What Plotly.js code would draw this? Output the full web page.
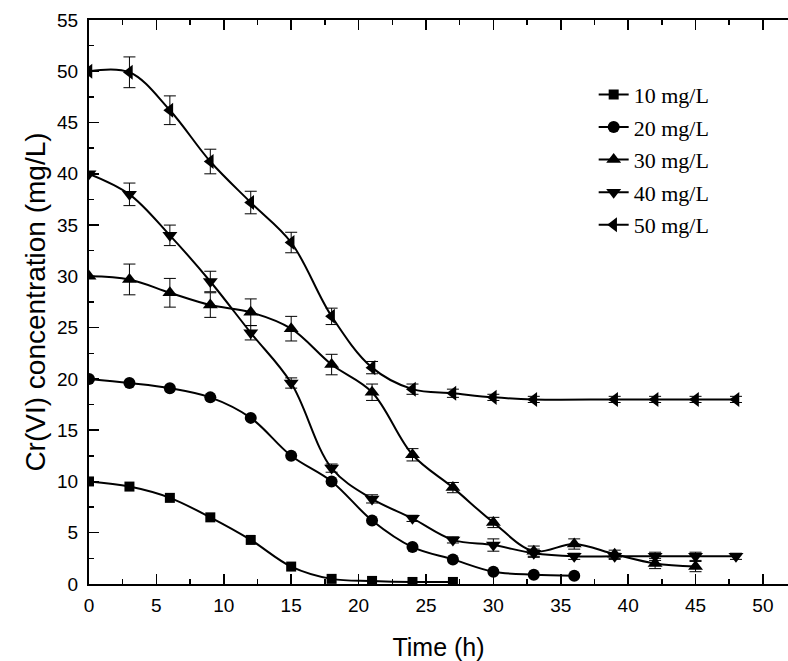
<!DOCTYPE html>
<html>
<head>
<meta charset="utf-8">
<script src="https://cdn.plot.ly/plotly-3.0.1.min.js"></script>
<style>
html,body{margin:0;padding:0;background:#fff;}
#chart{width:788px;height:661px;}
</style>
</head>
<body>
<div id="chart"></div>
<script>
// ---- data ----
const seriesNames = ["10 mg/L", "20 mg/L", "30 mg/L", "40 mg/L", "50 mg/L"];

const time10 = [0, 3, 6, 9, 12, 15, 18, 21, 24, 27];
const conc10 = [10.0, 9.5, 8.4, 6.5, 4.3, 1.7, 0.5, 0.3, 0.2, 0.2];

const time20 = [0, 3, 6, 9, 12, 15, 18, 21, 24, 27, 30, 33, 36];
const conc20 = [20.0, 19.6, 19.1, 18.2, 16.2, 12.5, 10.0, 6.2, 3.6, 2.4, 1.2, 0.9, 0.8];

const time30 = [0, 3, 6, 9, 12, 15, 18, 21, 24, 27, 30, 33, 36, 39, 42, 45];
const conc30 = [30.0, 29.7, 28.4, 27.2, 26.5, 24.9, 21.4, 18.7, 12.6, 9.4, 6.0, 3.2, 3.9, 2.9, 2.0, 1.7];
const err30  = [0, 1.5, 1.4, 1.2, 1.3, 1.2, 1.0, 0.8, 0.6, 0.5, 0.5, 0.5, 0.5, 0.4, 0.5, 0.5];

const time40 = [0, 3, 6, 9, 12, 15, 18, 21, 24, 27, 30, 33, 36, 39, 42, 45, 48];
const conc40 = [40.0, 38.0, 34.0, 29.5, 24.5, 19.6, 11.3, 8.3, 6.4, 4.3, 3.8, 3.0, 2.7, 2.7, 2.7, 2.7, 2.7];
const err40  = [0, 1.1, 1.0, 1.0, 0.7, 0.5, 0.4, 0.4, 0.3, 0.3, 0.6, 0.4, 0.3, 0.3, 0.4, 0.4, 0.3];

const time50 = [0, 3, 6, 9, 12, 15, 18, 21, 24, 27, 30, 33, 39, 42, 45, 48];
const conc50 = [50.0, 49.9, 46.2, 41.2, 37.2, 33.3, 26.1, 21.1, 19.0, 18.6, 18.2, 18.0, 18.0, 18.0, 18.0, 18.0];
const err50  = [0, 1.5, 1.4, 1.2, 1.1, 1.0, 0.8, 0.6, 0.5, 0.4, 0.3, 0.3, 0.3, 0.3, 0.3, 0.3];

const xTickVals = [0, 5, 10, 15, 20, 25, 30, 35, 40, 45, 50];
const yTickVals = [0, 5, 10, 15, 20, 25, 30, 35, 40, 45, 50, 55];

// ---- styling ----
const symbols = ["square", "circle", "triangle-up", "triangle-down", "triangle-left"];
const sizes = [10, 12, 13, 13, 13];

function mk(i, x, y, err) {
  const t = {
    type: "scatter",
    mode: "lines+markers",
    name: seriesNames[i],
    x: x, y: y,
    line: {color: "#000", width: 2, shape: "spline", smoothing: 1},
    marker: {symbol: symbols[i], size: sizes[i], color: "#000", line: {width: 0}},
    legendgroup: "g" + i,
    cliponaxis: true
  };
  if (err) {
    t.error_y = {type: "data", array: err, visible: true, color: "#000", thickness: 1, width: 6};
  }
  return t;
}

const traces = [
  mk(0, time10, conc10),
  mk(1, time20, conc20),
  mk(2, time30, conc30, err30),
  mk(3, time40, conc40, err40),
  mk(4, time50, conc50, err50)
];

const layout = {
  width: 788, height: 661,
  margin: {l: 89, r: 0, t: 20, b: 77, pad: 0},
  paper_bgcolor: "#fff", plot_bgcolor: "#fff",
  font: {family: "Liberation Sans, Arial, sans-serif", color: "#000"},
  showlegend: true,
  legend: {
    x: 0.722, y: 0.905, xanchor: "left", yanchor: "top",
    bgcolor: "rgba(0,0,0,0)", borderwidth: 0,
    font: {family: "Liberation Serif, Times New Roman, serif", size: 22, color: "#000"},
    traceorder: "grouped", tracegroupgap: 1
  },
  xaxis: {
    range: [0, 51.86], autorange: false,
    tickmode: "array", tickvals: xTickVals, ticktext: xTickVals.map(String),
    ticks: "inside", ticklen: 10, tickwidth: 1.5, tickcolor: "#000",
    minor: {dtick: 2.5, tick0: 0, ticks: "inside", ticklen: 5, tickwidth: 1.5, tickcolor: "#000", showgrid: false},
    showline: true, linecolor: "#000", linewidth: 2, mirror: "ticks",
    showgrid: false, zeroline: false,
    ticklabelstandoff: 3,
    tickfont: {size: 19, family: "Liberation Sans, Arial, sans-serif"},
    title: {text: "Time (h)", font: {size: 25, family: "Liberation Sans, Arial, sans-serif"}, standoff: 24}
  },
  yaxis: {
    range: [0, 55], autorange: false,
    tickmode: "array", tickvals: yTickVals, ticktext: yTickVals.map(String),
    ticks: "inside", ticklen: 10, tickwidth: 1.5, tickcolor: "#000",
    minor: {dtick: 2.5, tick0: 0, ticks: "inside", ticklen: 5, tickwidth: 1.5, tickcolor: "#000", showgrid: false},
    showline: true, linecolor: "#000", linewidth: 2, mirror: false,
    showgrid: false, zeroline: false,
    ticklabelstandoff: 5,
    tickfont: {size: 19, family: "Liberation Sans, Arial, sans-serif"},
    title: {text: "Cr(VI) concentration (mg/L)", font: {size: 28, family: "Liberation Sans, Arial, sans-serif"}, standoff: 3}
  }
};

Plotly.newPlot("chart", traces, layout, {displayModeBar: false, staticPlot: true});
</script>
</body>
</html>
